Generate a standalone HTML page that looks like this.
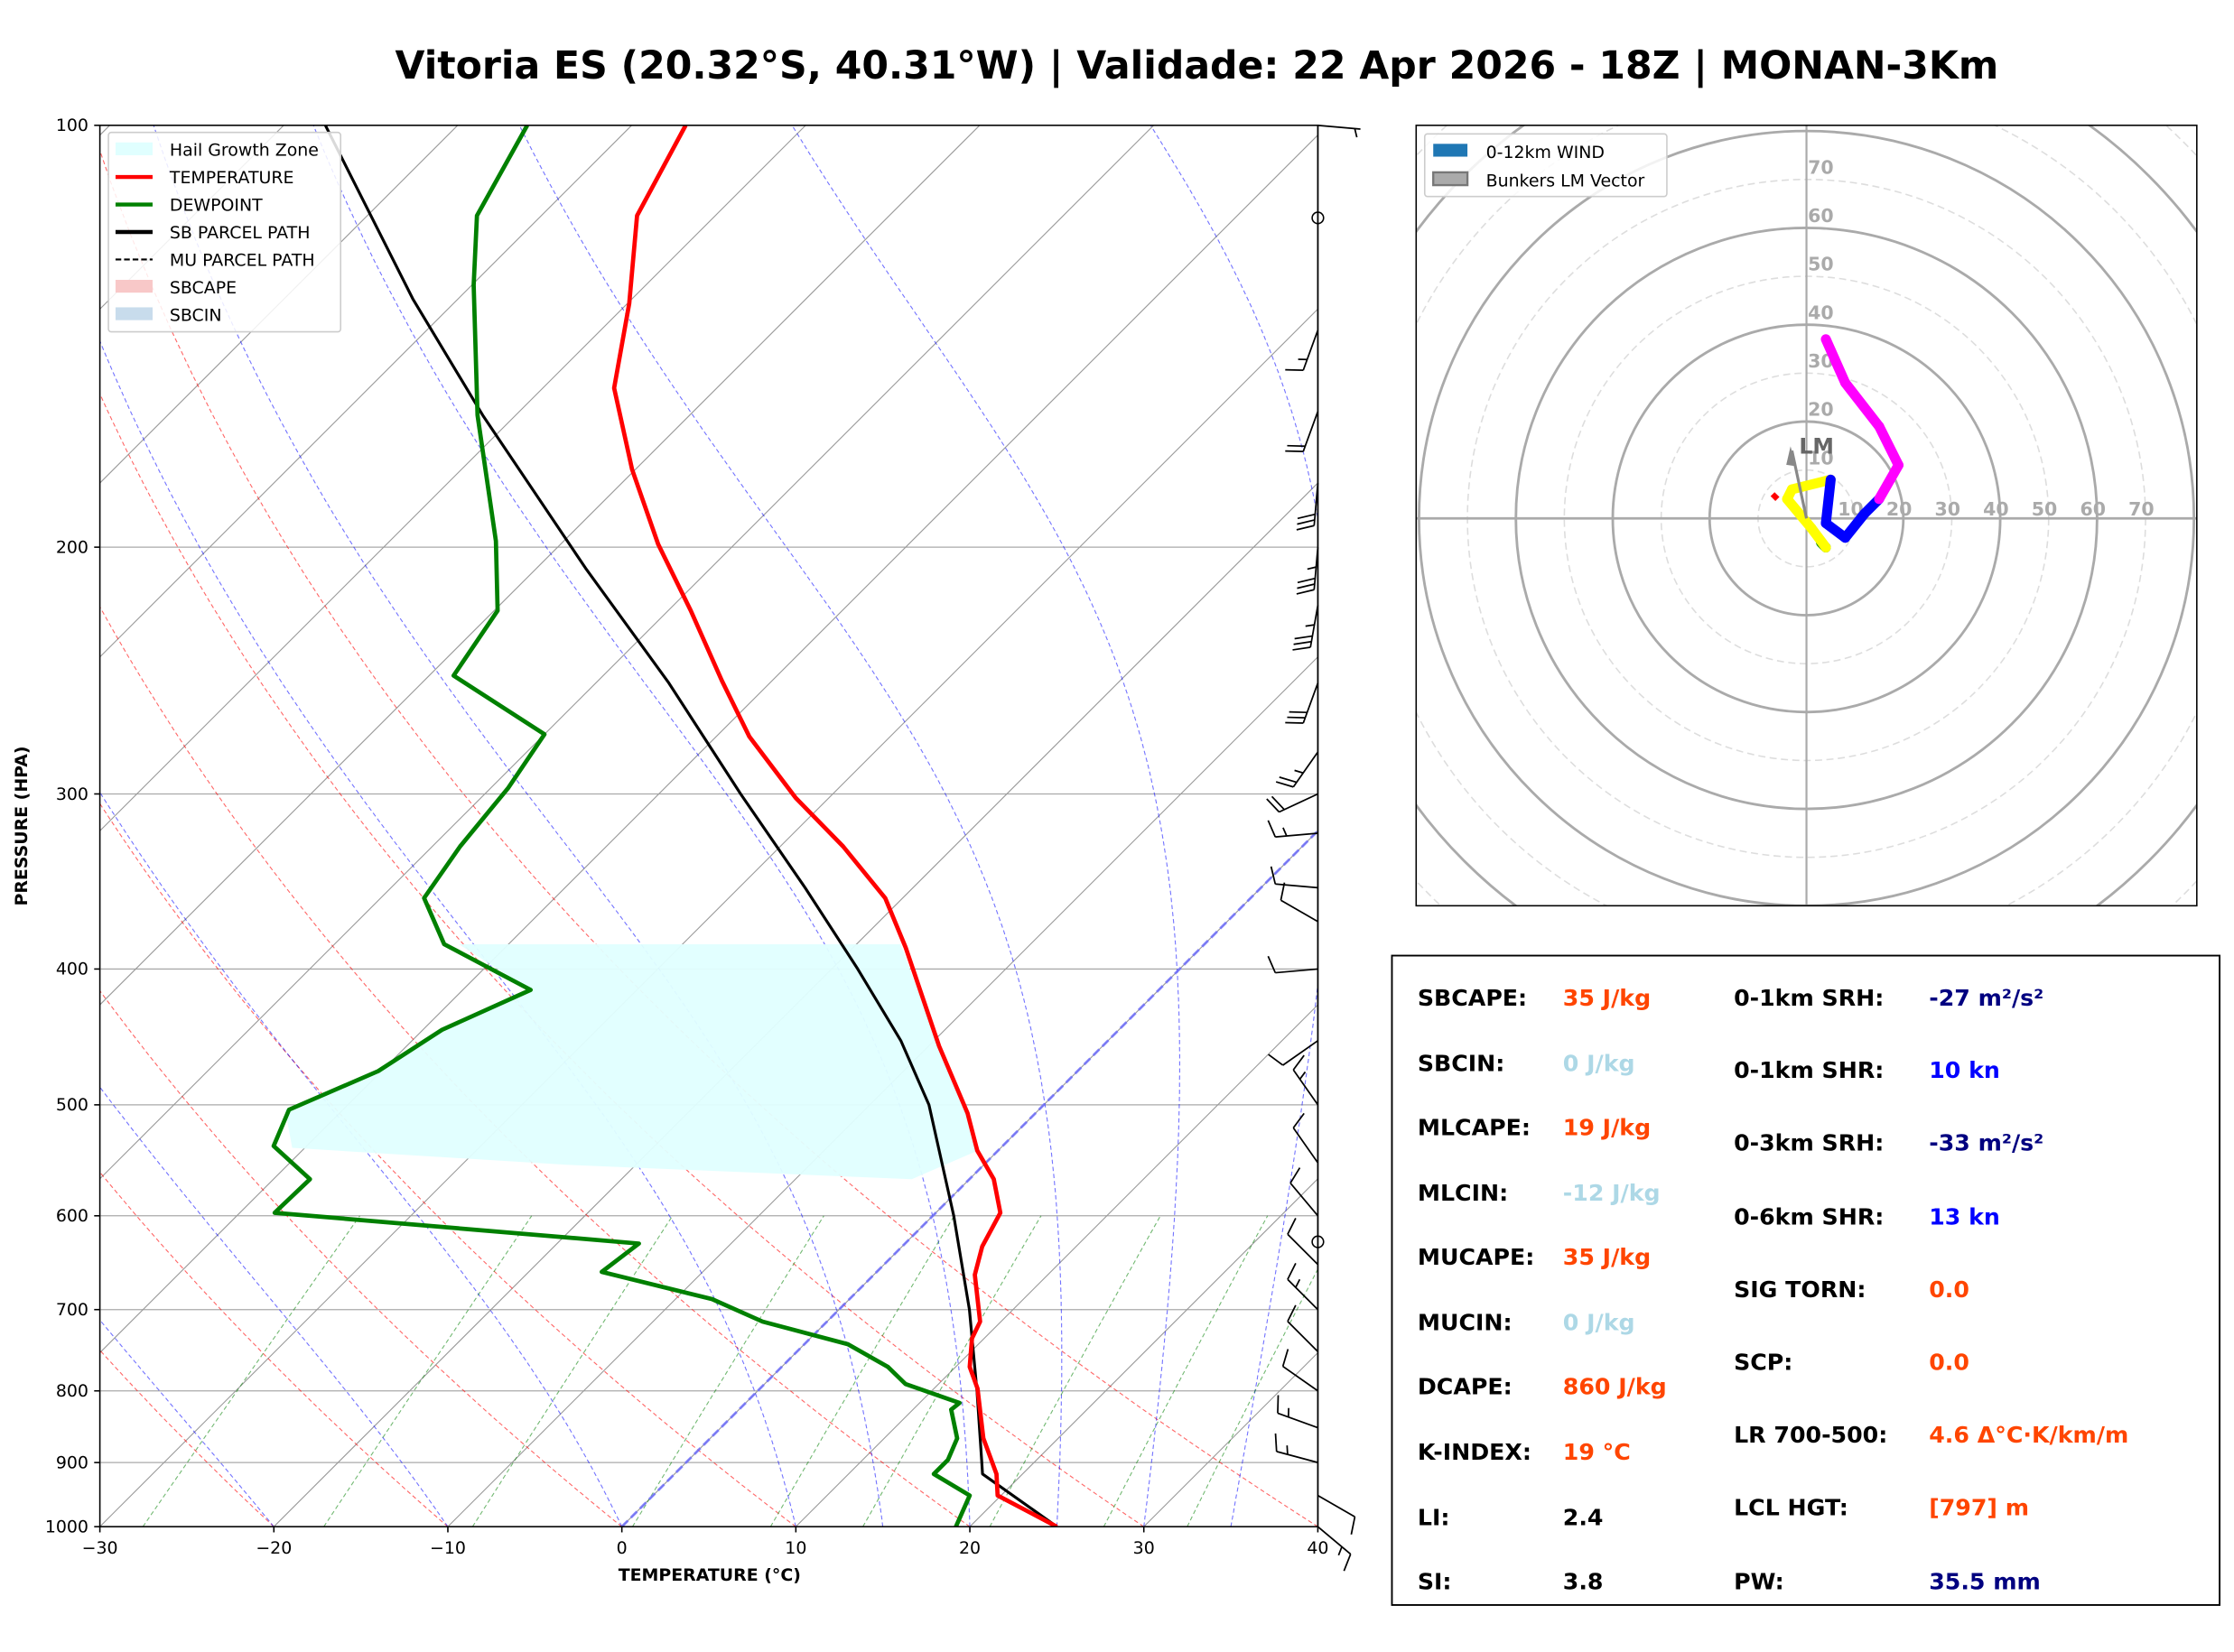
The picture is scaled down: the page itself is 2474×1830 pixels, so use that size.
<!DOCTYPE html>
<html><head><meta charset="utf-8"><style>
html,body{margin:0;padding:0;background:#fff;}
svg{display:block;font-family:"DejaVu Sans","Liberation Sans",sans-serif;}
</style></head><body>
<svg id="fig" width="2474" height="1830" viewBox="0 0 1568 1160" xmlns="http://www.w3.org/2000/svg">
<rect width="1568" height="1160" fill="#fff"/>
<text x="840" y="55" text-anchor="middle" font-size="27" font-weight="bold">Vitoria ES (20.32°S, 40.31°W) | Validade: 22 Apr 2026 - 18Z | MONAN-3Km</text>
<defs><clipPath id="skc"><rect x="70" y="88" width="855" height="984"/></clipPath>
<clipPath id="hoc"><rect x="994" y="88" width="548" height="548"/></clipPath></defs>
<g id="skew"></g>
<g id="hodo"></g>
<g id="stats">
<rect x="977" y="671" width="581" height="456" fill="#fff" stroke="#000" stroke-width="1.2"/>
<g font-size="16" font-weight="bold">
<text x="995" y="706">SBCAPE:</text><text x="1097" y="706" fill="#FF4500">35 J/kg</text>
<text x="995" y="752">SBCIN:</text><text x="1097" y="752" fill="#ADD8E6">0 J/kg</text>
<text x="995" y="797">MLCAPE:</text><text x="1097" y="797" fill="#FF4500">19 J/kg</text>
<text x="995" y="843">MLCIN:</text><text x="1097" y="843" fill="#ADD8E6">-12 J/kg</text>
<text x="995" y="888">MUCAPE:</text><text x="1097" y="888" fill="#FF4500">35 J/kg</text>
<text x="995" y="934">MUCIN:</text><text x="1097" y="934" fill="#ADD8E6">0 J/kg</text>
<text x="995" y="979">DCAPE:</text><text x="1097" y="979" fill="#FF4500">860 J/kg</text>
<text x="995" y="1025">K-INDEX:</text><text x="1097" y="1025" fill="#FF4500">19 °C</text>
<text x="995" y="1071">LI:</text><text x="1097" y="1071">2.4</text>
<text x="995" y="1116">SI:</text><text x="1097" y="1116">3.8</text>
<text x="1217" y="706">0-1km SRH:</text><text x="1354" y="706" fill="#000080">-27 m²/s²</text>
<text x="1217" y="757">0-1km SHR:</text><text x="1354" y="757" fill="#0000FF">10 kn</text>
<text x="1217" y="808">0-3km SRH:</text><text x="1354" y="808" fill="#000080">-33 m²/s²</text>
<text x="1217" y="860">0-6km SHR:</text><text x="1354" y="860" fill="#0000FF">13 kn</text>
<text x="1217" y="911">SIG TORN:</text><text x="1354" y="911" fill="#FF4500">0.0</text>
<text x="1217" y="962">SCP:</text><text x="1354" y="962" fill="#FF4500">0.0</text>
<text x="1217" y="1013">LR 700-500:</text><text x="1354" y="1013" fill="#FF4500">4.6 Δ°C·K/km/m</text>
<text x="1217" y="1064">LCL HGT:</text><text x="1354" y="1064" fill="#FF4500">[797] m</text>
<text x="1217" y="1116">PW:</text><text x="1354" y="1116" fill="#000080">35.5 mm</text>
</g></g>
</svg>
<script>
// ---- sounding data ----
const tempP = [1000,950,917,865,797,769,734,714,661,631,597,565,539,507,454,386,356,327,302,273,249,222,199,176,154,134,116,100];
const tempT = [25,19.8,18.5,15.7,12.5,10.8,9.3,8.8,5.8,4.6,3.7,1.4,-1.2,-3.9,-9.4,-17,-21,-26.4,-31.9,-38.1,-42.9,-48.7,-54.4,-60.2,-65.9,-69.9,-74.5,-76.9];
const dewP = [1000,950,917,896,865,825,816,791,769,741,714,688,658,628,597,565,535,504,473,442,414,384,356,327,297,272,247,222,198,161,130,116,100];
const dewT = [19.2,18.2,14.9,14.9,14.2,12.2,12.3,8.1,6.1,2.5,-3.7,-7.9,-15.8,-15.3,-38,-37.9,-41.9,-43.1,-40.2,-38.9,-36.1,-43.7,-47.5,-48.4,-49,-50,-58.6,-59.8,-63.9,-72.2,-79.9,-83.7,-86];
const parP = [1000,917,900,800,700,600,500,450,400,350,300,250,207,161,133,100];
const parT = [25,17.7,17,12.6,7.5,1.2,-6.6,-11.9,-18.5,-26.2,-35.3,-45.8,-57.2,-71.9,-82.6,-97.6];
const barbP = [1000,950,900,850,800,750,700,650,600,550,500,450,400,370,350,320,300,280,250,220,200,180,160,140,100];
const barbDir = [130,120,285,290,305,315,315,315,320,325,325,235,265,300,275,265,245,215,200,190,185,185,200,200,95];
const barbSpd = [15,10,15,15,10,10,15,10,10,10,15,10,10,10,10,15,20,25,30,35,35,30,20,15,5];
const xTicks = [-30,-20,-10,0,10,20,30,40];
const pTicks = [100,200,300,400,500,600,700,800,900,1000];
// hodograph data (knots)
const hodoU = [3,4,1,-4,-3,5,4,8,12,15,19,15,8,4];
const hodoV = [-5,-6,-2,4,6,8,-1,-4,1,4,11,19,28,37];
const hodoColor = ['green','green','yellow','yellow','yellow','yellow','blue','blue','blue','blue','magenta','magenta','magenta','magenta'];
const lmU = [-3], lmV = [14];

const NS='http://www.w3.org/2000/svg';
function el(tag,attrs,parent){const e=document.createElementNS(NS,tag);for(const k in attrs)e.setAttribute(k,attrs[k]);parent.appendChild(e);return e;}
const Y0=1072,H=984,X0=70,SC=12.214;
function yP(p){return Y0-H*Math.log10(1000/p);}
function xT(T,p){return X0+(T+30)*SC+(Y0-yP(p));}
function pts(P,T){return P.map((p,i)=>xT(T[i],p).toFixed(1)+','+yP(p).toFixed(1)).join(' ');}
const sk=document.getElementById('skew');
const g=el('g',{'clip-path':'url(#skc)'},sk);
pTicks.forEach(p=>{const l=el('line',{x1:70,x2:925,y1:yP(p),y2:yP(p),stroke:'#aaa','stroke-width':0.8},g);
});
for(let t=-120;t<=40;t+=10){const l=el('line',{x1:xT(t,1000),y1:yP(1000),x2:xT(t,100),y2:yP(100),stroke:'#999','stroke-width':0.7},g);
}
const plev=[];for(let p=1000;p>=100;p-=10)plev.push(p);
for(let t0=-40;t0<=40;t0+=10){const th=t0+273.15;const T=plev.map(p=>th*Math.pow(p/1000,0.286)-273.15);
const l=el('polyline',{points:pts(plev,T),fill:'none',stroke:'#ff0000','stroke-opacity':0.6,'stroke-width':0.7,'stroke-dasharray':'3,2'},g);
}
function es(T){return 6.112*Math.exp(17.67*T/(T+243.5));}
const m0=[-50,-40,-30,-20,-10,0,10,15,20,25,30,35,40];
m0.forEach(t0=>{let T=t0+273.15;const P=[1000],TT=[t0];
for(let p=1000;p>100;p-=5){const rs=0.622*es(T-273.15)/(p-es(T-273.15));
const d=(287*T+2.5e6*rs)/(1004+2.5e6*2.5e6*rs*0.622/(287*T*T))/p;T-=d*5;P.push(p-5);TT.push(T-273.15);}
const l=el('polyline',{points:pts(P,TT),fill:'none',stroke:'#0000ff','stroke-opacity':0.55,'stroke-width':0.7,'stroke-dasharray':'3,2'},g);
});
[0.0004,0.001,0.002,0.004,0.007,0.01,0.016,0.024,0.032].forEach(w=>{const P=[],T=[];for(let p=1000;p>=600;p-=20){const e=w*p/(0.622+w);const a=Math.log(e/6.112);P.push(p);T.push(243.5*a/(17.67-a));}
const l=el('polyline',{points:pts(P,T),fill:'none',stroke:'#008000','stroke-opacity':0.55,'stroke-width':0.7,'stroke-dasharray':'3,2'},g);
});
const z=el('line',{x1:xT(0,1000),y1:yP(1000),x2:xT(0,100),y2:yP(100),stroke:'#6a6aff','stroke-width':1.8,'stroke-dasharray':'6,3','stroke-opacity':0.8},g);

const hg=el('polygon',{points:'322,663 632,663 659,735 679,782 686,808 640,828 400,818 205,806 200,779 265,752 310,723 372,695',fill:'#e0ffff','fill-opacity':0.95},g);

const par=el('polyline',{points:pts(parP,parT),fill:'none',stroke:'#000','stroke-width':2,'stroke-linejoin':'round'},g);

const tl=el('polyline',{points:pts(tempP,tempT),fill:'none',stroke:'#ff0000','stroke-width':3,'stroke-linejoin':'round'},g);

const dl=el('polyline',{points:pts(dewP,dewT),fill:'none',stroke:'#008000','stroke-width':3,'stroke-linejoin':'round'},g);

const fr=el('rect',{x:70,y:88,width:855,height:984,fill:'none',stroke:'#000','stroke-width':1},sk);

xTicks.forEach(t=>{const x=X0+(t+30)*SC;el('line',{x1:x,x2:x,y1:1072,y2:1076,stroke:'#000'},sk);
const tx=el('text',{x:x,y:1091,'text-anchor':'middle','font-size':12},sk);tx.textContent=(t<0?'−'+(-t):t);
});
pTicks.forEach(p=>{el('line',{x1:66,x2:70,y1:yP(p),y2:yP(p),stroke:'#000'},sk);
const tx=el('text',{x:62,y:yP(p)+4,'text-anchor':'end','font-size':12},sk);tx.textContent=p;
});
let t=el('text',{x:498,y:1110,'text-anchor':'middle','font-size':12,'font-weight':'bold'},sk);t.textContent='TEMPERATURE (°C)';

t=el('text',{x:19,y:580,'text-anchor':'middle','font-size':12,'font-weight':'bold',transform:'rotate(-90 19 580)'},sk);t.textContent='PRESSURE (HPA)';

el('line',{x1:925,y1:88,x2:925,y2:1072,stroke:'#000','stroke-width':1},sk);
barbP.forEach((p,i)=>{const y=yP(p),d=barbDir[i]*Math.PI/180,L=30;const ux=Math.sin(d),uy=-Math.cos(d);
const tx=925+ux*L,ty=y+uy*L;const gb=el('g',{stroke:'#000','stroke-width':1.1,fill:'none'},sk);

el('line',{x1:925,y1:y,x2:tx,y2:ty},gb);
let s=barbSpd[i],k=0;const px=-uy,py=ux;
while(s>=10){const bx=tx-ux*k*4,by=ty-uy*k*4;el('line',{x1:bx,y1:by,x2:bx+px*12+ux*4,y2:by+py*12+uy*4},gb);s-=10;k++;}
if(s>=5){const bx=tx-ux*(k+1)*4,by=ty-uy*(k+1)*4;el('line',{x1:bx,y1:by,x2:bx+px*6+ux*2,y2:by+py*6+uy*2},gb);}});
el('circle',{cx:925,cy:153,r:4,fill:'none',stroke:'#000'},sk);
el('circle',{cx:925,cy:872,r:4,fill:'none',stroke:'#000'},sk);
const lg=el('g',{},sk);
el('rect',{x:76,y:93,width:163,height:140,fill:'#fff','fill-opacity':0.85,stroke:'#ccc',rx:2},lg);
const items=[['Hail Growth Zone','rect','#e0ffff'],['TEMPERATURE','line','#f00'],['DEWPOINT','line','#008000'],['SB PARCEL PATH','line','#000'],['MU PARCEL PATH','dash','#000'],['SBCAPE','rect','#f8c8c8'],['SBCIN','rect','#c8dcec']];
items.forEach((it,i)=>{const y=105+i*19.3;
if(it[1]==='rect')el('rect',{x:81,y:y-5,width:26,height:9,fill:it[2]},lg);
else el('line',{x1:81,x2:107,y1:y,y2:y,stroke:it[2],'stroke-width':it[1]==='dash'?1.3:2.8,'stroke-dasharray':it[1]==='dash'?'4,2':'none'},lg);
const tt=el('text',{x:119,y:y+4.5,'font-size':12},lg);tt.textContent=it[0];
});
// ---- hodograph ----
const ho=document.getElementById('hodo');const hg2=el('g',{'clip-path':'url(#hoc)'},ho);
const CX=1268,CY=364,KS=3.4;
for(let r=10;r<=110;r+=10){const c=el('circle',{cx:CX,cy:CY,r:r*KS,fill:'none',stroke:r%20===0?'#aaa':'#ddd','stroke-width':r%20===0?1.8:1,'stroke-dasharray':r%20===0?'none':'5,3'},hg2);
}
el('line',{x1:994,x2:1542,y1:CY,y2:CY,stroke:'#aaa','stroke-width':1.8},hg2);
el('line',{x1:CX,x2:CX,y1:88,y2:636,stroke:'#aaa','stroke-width':1.4},hg2);
for(let r=10;r<=70;r+=10){let a=el('text',{x:CX+r*KS-12,y:CY-2,'font-size':13,'font-weight':'bold',fill:'#aaa'},hg2);a.textContent=r;

a=el('text',{x:CX+1,y:CY-r*KS-4,'font-size':13,'font-weight':'bold',fill:'#aaa'},hg2);a.textContent=r;
}
for(let i=1;i<hodoU.length;i++){const s=el('line',{x1:CX+hodoU[i-1]*KS,y1:CY-hodoV[i-1]*KS,x2:CX+hodoU[i]*KS,y2:CY-hodoV[i]*KS,stroke:hodoColor[i],'stroke-width':7,'stroke-linecap':'round'},hg2);
}
el('line',{x1:CX-6*KS,y1:CY-4*KS,x2:CX-7*KS,y2:CY-5*KS,stroke:'red','stroke-width':4},hg2);
const ar=el('line',{x1:CX,y1:CY,x2:CX+lmU[0]*KS,y2:CY-lmV[0]*KS,stroke:'#888','stroke-width':2},hg2);

el('polygon',{points:`${CX+lmU[0]*KS-4},${CY-lmV[0]*KS+10} ${CX+lmU[0]*KS+3},${CY-lmV[0]*KS+11} ${CX+lmU[0]*KS-1},${CY-lmV[0]*KS-3}`,fill:'#888'},hg2);
t=el('text',{x:CX+lmU[0]*KS+5,y:CY-lmV[0]*KS+2,'font-size':15,'font-weight':'bold',fill:'#666'},hg2);t.textContent='LM';

el('rect',{x:994,y:88,width:548,height:548,fill:'none',stroke:'#000','stroke-width':1},ho);
const hl=el('g',{},ho);
el('rect',{x:1000,y:94,width:170,height:44,fill:'#fff','fill-opacity':0.85,stroke:'#ccc',rx:2},hl);
el('rect',{x:1006,y:101,width:24,height:9,fill:'#1f77b4'},hl);
el('rect',{x:1006,y:121,width:24,height:9,fill:'#aaa',stroke:'#777','stroke-width':1.5},hl);
t=el('text',{x:1043,y:111,'font-size':12},hl);t.textContent='0-12km WIND';
t=el('text',{x:1043,y:131,'font-size':12},hl);t.textContent='Bunkers LM Vector';
</script>
</body></html>
